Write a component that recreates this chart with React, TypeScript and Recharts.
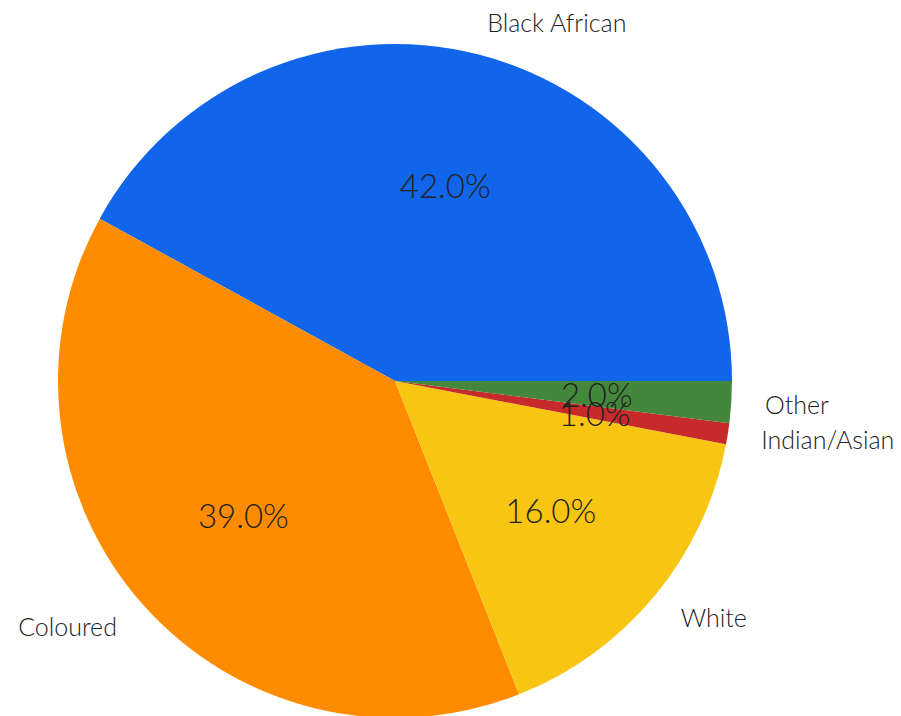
import React from 'react';
import { PieChart, Pie, Cell } from 'recharts';

const groups = ['Black African', 'Coloured', 'White', 'Indian/Asian', 'Other'];
const shares = [42, 39, 16, 1, 2];
const colors = ['#1165EA', '#FF8C00', '#F9C513', '#C62A2A', '#43883A'];

const data = groups.map((name, i) => ({ name, value: shares[i] }));

const RADIAN = Math.PI / 180;
const FONT = 'Lato, "Open Sans", sans-serif';

const renderLabel = (props: any) => {
  const { cx, cy, midAngle, outerRadius, percent, name } = props;
  const cos = Math.cos(-midAngle * RADIAN);
  const sin = Math.sin(-midAngle * RADIAN);
  // name sits just outside the slice, percentage at 60% of the radius
  const nx = cx + outerRadius * 1.1 * cos;
  const ny = cy + outerRadius * 1.1 * sin;
  const px = cx + outerRadius * 0.6 * cos;
  const py = cy + outerRadius * 0.6 * sin;
  return (
    <g>
      <text
        x={nx}
        y={ny}
        textAnchor={cos >= 0 ? 'start' : 'end'}
        dominantBaseline="central"
        fontFamily={FONT}
        fontWeight={300}
        fontSize={25}
        fill="#222"
      >
        {name}
      </text>
      <text
        x={px}
        y={py}
        textAnchor="middle"
        dominantBaseline="central"
        fontFamily={FONT}
        fontWeight={300}
        fontSize={33}
        fill="#222"
      >
        {`${(percent * 100).toFixed(1)}%`}
      </text>
    </g>
  );
};

export default function App() {
  return (
    <div style={{ position: 'absolute', left: 0, top: 0, background: '#fff' }}>
      <PieChart width={901} height={716} margin={{ top: 0, right: 0, bottom: 0, left: 0 }}>
        <Pie
          data={data}
          dataKey="value"
          nameKey="name"
          cx={395}
          cy={381}
          outerRadius={337}
          startAngle={0}
          endAngle={360}
          stroke="none"
          label={renderLabel}
          labelLine={false}
          isAnimationActive={false}
        >
          {data.map((d, i) => (
            <Cell key={d.name} fill={colors[i]} />
          ))}
        </Pie>
      </PieChart>
    </div>
  );
}
